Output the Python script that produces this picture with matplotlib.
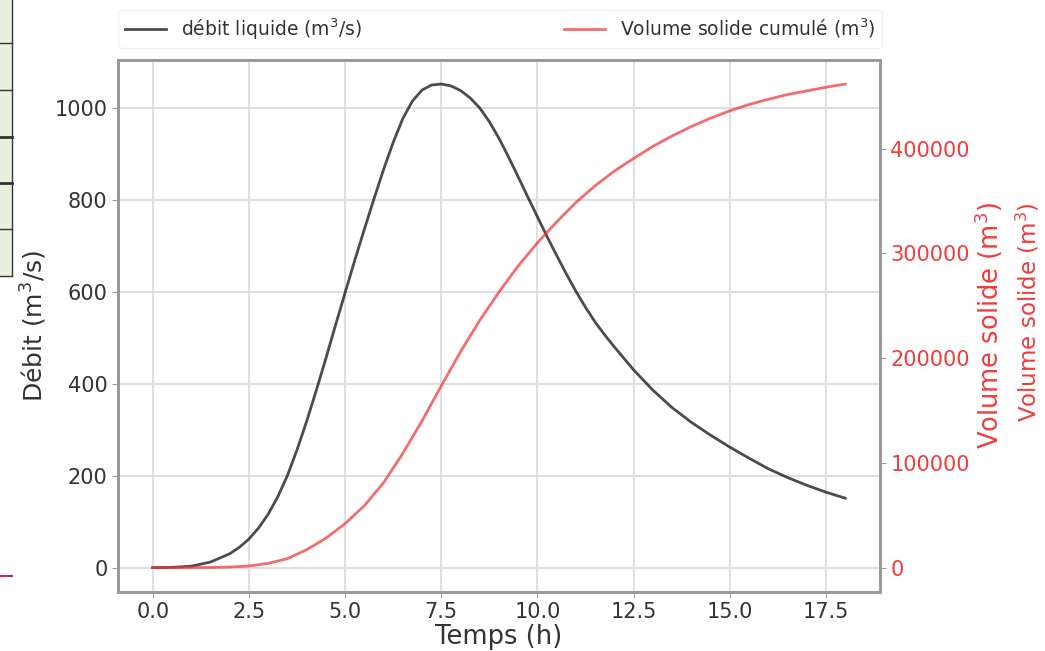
import numpy as np
import matplotlib.pyplot as plt
from matplotlib.patches import Rectangle
from matplotlib.lines import Line2D

plt.rcParams['font.family'] = ['DejaVu Sans']

# Temps (h) for the discharge curve (finer where it bends)
temps_q = [0.0, 0.5, 1.0, 1.5, 2.0, 2.25, 2.5, 2.75, 3.0, 3.25, 3.5, 3.75,
           4.0, 4.25, 4.5, 4.75, 5.0, 5.25, 5.5, 5.75, 6.0, 6.25, 6.5, 6.75,
           7.0, 7.25, 7.5, 7.75, 8.0, 8.25, 8.5, 8.75, 9.0, 9.25, 9.5, 9.75,
           10.0, 10.25, 10.5, 10.75, 11.0, 11.25, 11.5, 11.75, 12.0, 12.5,
           13.0, 13.5, 14.0, 14.5, 15.0, 15.5, 16.0, 16.5, 17.0, 17.5, 18.0]

# débit liquide (m3/s)
debit = [0, 0.5, 3, 12, 30, 44, 62, 86, 116, 154, 200, 256,
         318, 385, 455, 527, 598, 668, 736, 802, 866, 925, 977, 1015,
         1039, 1050, 1052, 1048, 1038, 1022, 1000, 970, 934, 893, 850, 806,
         763, 720, 679, 639, 601, 566, 534, 506, 480, 430,
         386, 348, 316, 288, 262, 238, 215, 196, 179, 164, 151]

# Temps (h) for the cumulated solid volume
temps_v = [0.0, 0.5, 1.0, 1.5, 2.0, 2.5, 3.0, 3.5, 4.0, 4.5, 5.0, 5.5, 6.0,
           6.5, 7.0, 7.5, 8.0, 8.5, 9.0, 9.5, 10.0, 10.5, 11.0, 11.5, 12.0,
           12.5, 13.0, 13.5, 14.0, 14.5, 15.0, 15.5, 16.0, 16.5, 17.0, 17.5, 18.0]

# volume solide cumulé (m3)
volume = [0, 0, 0, 100, 500, 1500, 4000, 8500, 17000, 28000, 42000, 59000, 81000,
          109000, 140000, 173500, 206000, 236000, 263000, 288000, 310000, 330000,
          348500, 364500, 378500, 390500, 402000, 412000, 421000, 429000, 436000,
          442000, 447000, 451500, 455000, 458500, 461500]

xticks = np.arange(0, 18.1, 2.5)
vticks = [0, 100000, 200000, 300000, 400000]

fig = plt.figure(figsize=(10.45, 6.51), dpi=100)
ax = fig.add_axes([0.113, 0.091, 0.729, 0.817])

ax.plot(temps_q, debit, color='black', alpha=0.7, lw=2,
        label='débit liquide (m$^3$/s)')
ax.set_xticks(xticks)
ax.grid(True, color='#e0e0e0', lw=1.5)
ax.set_axisbelow(True)
ax.set_xlabel('Temps (h)', fontsize=18.5, color='#333333', labelpad=1)
ax.set_ylabel('Débit (m$^3$/s)', fontsize=18, color='#333333', labelpad=4)
ax.tick_params(labelsize=15, colors='#333333', length=4, color='#999999')

ax2 = ax.twinx()
ax2.plot(temps_v, volume, color='#f03c3c', alpha=0.75, lw=2,
         label='Volume solide cumulé (m$^3$)')
ax2.set_yticks(vticks)
ax2.set_ylabel('Volume solide (m$^3$)', fontsize=18.5, color='#f03c3c', labelpad=2)
ax2.tick_params(labelsize=15, colors='#f03c3c', length=4)
ax2.tick_params(axis='y', color='#999999')

for a in (ax, ax2):
    for s in a.spines.values():
        s.set_color('#999999')
        s.set_linewidth(2)

h1, l1 = ax.get_legend_handles_labels()
h2, l2 = ax2.get_legend_handles_labels()
leg = ax.legend(h1 + h2, l1 + l2, loc='lower left', ncol=2, mode='expand',
                bbox_to_anchor=(0, 1.022, 1.003, 0.07), borderaxespad=0,
                fontsize=13.5, frameon=True, fancybox=True, edgecolor='#eeeeee',
                handlelength=2.2, borderpad=0.35)
for txt in leg.get_texts():
    txt.set_color('#333333')

# duplicated right label of the screenshot
fig.text(1028 / 1045, 1 - 312 / 651, 'Volume solide (m$^3$)', rotation=90,
         fontsize=16.5, color='#f03c3c', ha='center', va='center')

# scraps of the surrounding document on the left edge
fig.add_artist(Rectangle((0, 1 - 276 / 651), 12 / 1045, 276 / 651,
                         transform=fig.transFigure, facecolor='#e9f0de',
                         edgecolor='none'))
fig.add_artist(Line2D([12 / 1045, 12 / 1045], [1, 1 - 276 / 651],
                      transform=fig.transFigure, color='#333333', lw=1))
for yy, lw in [(43, 1), (90, 1), (137, 2), (183, 2), (229, 1), (276, 1)]:
    fig.add_artist(Line2D([0, 12 / 1045], [1 - yy / 651, 1 - yy / 651],
                          transform=fig.transFigure, color='#333333', lw=lw))
fig.add_artist(Line2D([0, 12 / 1045], [1 - 576 / 651, 1 - 576 / 651],
                      transform=fig.transFigure, color='#c0304a', lw=1.5))

fig.savefig('out.png', dpi=100)
